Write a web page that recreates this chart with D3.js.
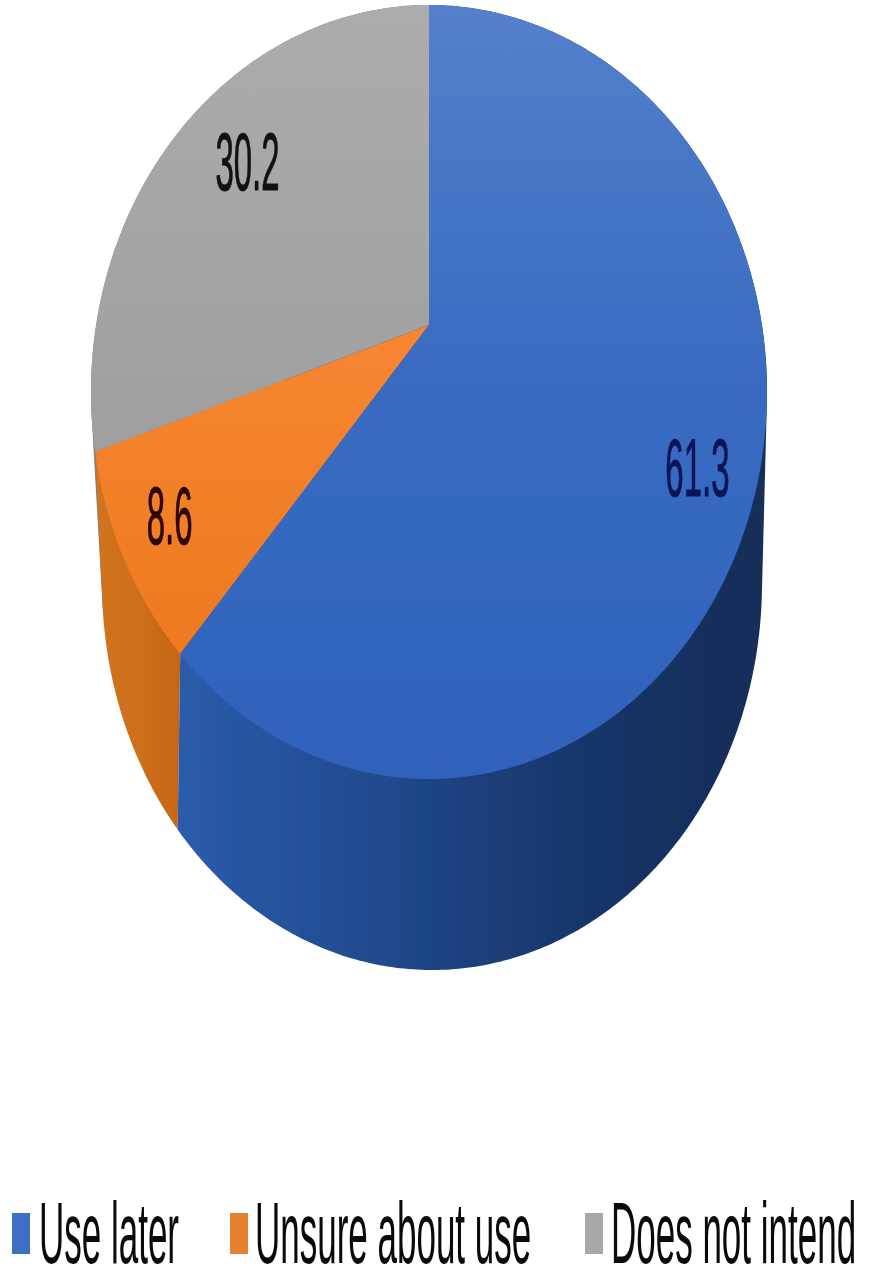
<!DOCTYPE html>
<html><head><meta charset="utf-8">
<script src="https://cdn.jsdelivr.net/npm/d3@7/dist/d3.min.js"></script>
<style>html,body{margin:0;background:#fff}svg{display:block}text{font-family:"Liberation Sans",Arial,sans-serif}</style>
</head><body><svg id="c" width="874" height="1280"></svg>
<script>
const categories=["Use later","Unsure about use","Does not intend"];
const values=[61.3,8.6,30.2];
const labels=["61.3","8.6","30.2"];
const sideColors=["#2a5cab","#cc6c18","#7f7f7f"];
const labelColors=["#0b1457","#2e0508","#111111"];
const labelR=[0.8,0.85,0.72], labelDx=[6,-4,0], labelDy=[33,-5,-17];
const legendX=[12,230,585], legendTextX=[39,255,611];
const legendFill=["#3d70c4","#e8812f","#a8a8a8"];

const W=874,H=1280;
const svg=d3.select("#c");
const defs=svg.append("defs");
function lg(id,x1,y1,x2,y2,stops){
  const g=defs.append("linearGradient").attr("id",id).attr("gradientUnits","userSpaceOnUse")
    .attr("x1",x1).attr("y1",y1).attr("x2",x2).attr("y2",y2);
  stops.forEach(s=>g.append("stop").attr("offset",s[0]).attr("stop-color",s[1]));
  return `url(#${id})`;
}
const topFill=[
  lg("t0",0,5,0,780,[[0,"#5480cb"],[.45,"#3a6cc2"],[1,"#2f62bb"]]),
  lg("t1",0,330,0,650,[[0,"#f68632"],[1,"#ee7a1f"]]),
  lg("t2",0,5,0,440,[[0,"#acacac"],[1,"#9f9f9f"]])
];
const sideFill=[
  lg("s0",180,0,760,0,[[0,"#2a5cab"],[.3,"#224c92"],[.6,"#1a3a72"],[.85,"#15305f"],[1,"#152d59"]]),
  lg("s1",95,0,185,0,[[0,"#d27320"],[.5,"#cd6f1a"],[1,"#c46414"]]),
  sideColors[2]
];
defs.append("filter").attr("id","soft").append("feGaussianBlur").attr("stdDeviation",0.7);

const pie=d3.pie().sort(null).value(d=>d);
const arcs=pie(values);

// perspective projection of a tilted disc
const rimTop={cx:429,cy:392,rx:338,ry:387,q:-0.173};
const rimBot={cx:432,cy:583,rx:330,ry:387,q:-0.24};
function proj(rim,a,r=1){
  const u=r*Math.sin(a),v=-r*Math.cos(a),w=1+rim.q*v;
  return [rim.cx+rim.rx*u*Math.sqrt(1-rim.q*rim.q)/w, rim.cy+rim.ry*(v+rim.q)/w];
}
function rimPts(rim,a0,a1){
  const n=Math.max(2,Math.ceil((a1-a0)/0.01));
  return d3.range(n+1).map(i=>proj(rim,a0+(a1-a0)*i/n));
}
const line=d3.line().curve(d3.curveLinear);
const g=svg.append("g").attr("filter","url(#soft)");

// depth walls, rear slices first: each wall is the hull swept between both rims
[2,1,0].forEach(i=>{
  const d=arcs[i];
  const t=rimPts(rimTop,d.startAngle,d.endAngle), b=rimPts(rimBot,d.startAngle,d.endAngle);
  g.append("path").attr("d",line(d3.polygonHull([...t,...b]))+"Z").attr("fill",sideFill[i]);
});
// top faces
[2,1,0].forEach(i=>{
  const d=arcs[i];
  g.append("path").attr("d",line([proj(rimTop,0,0),...rimPts(rimTop,d.startAngle,d.endAngle)])+"Z")
    .attr("fill",topFill[i]);
});
// value labels
arcs.forEach((d,i)=>{
  const p=proj(rimTop,(d.startAngle+d.endAngle)/2,labelR[i]);
  svg.append("g").attr("transform",`translate(${p[0]+labelDx[i]},${p[1]+labelDy[i]}) scale(1,2.45)`)
    .append("text").attr("text-anchor","middle").attr("dy","0.36em")
    .attr("font-size",33).attr("fill",labelColors[i]).attr("stroke",labelColors[i]).attr("stroke-width",0.4).text(labels[i]);
});
// legend
categories.forEach((c,i)=>{
  svg.append("rect").attr("x",legendX[i]).attr("y",1213).attr("width",18).attr("height",41)
    .attr("fill",legendFill[i]);
  svg.append("g").attr("transform",`translate(${legendTextX[i]},1263) scale(1,2.5)`)
    .append("text").attr("font-size",35).attr("fill","#0a0a0a").text(c);
});
</script></body></html>
